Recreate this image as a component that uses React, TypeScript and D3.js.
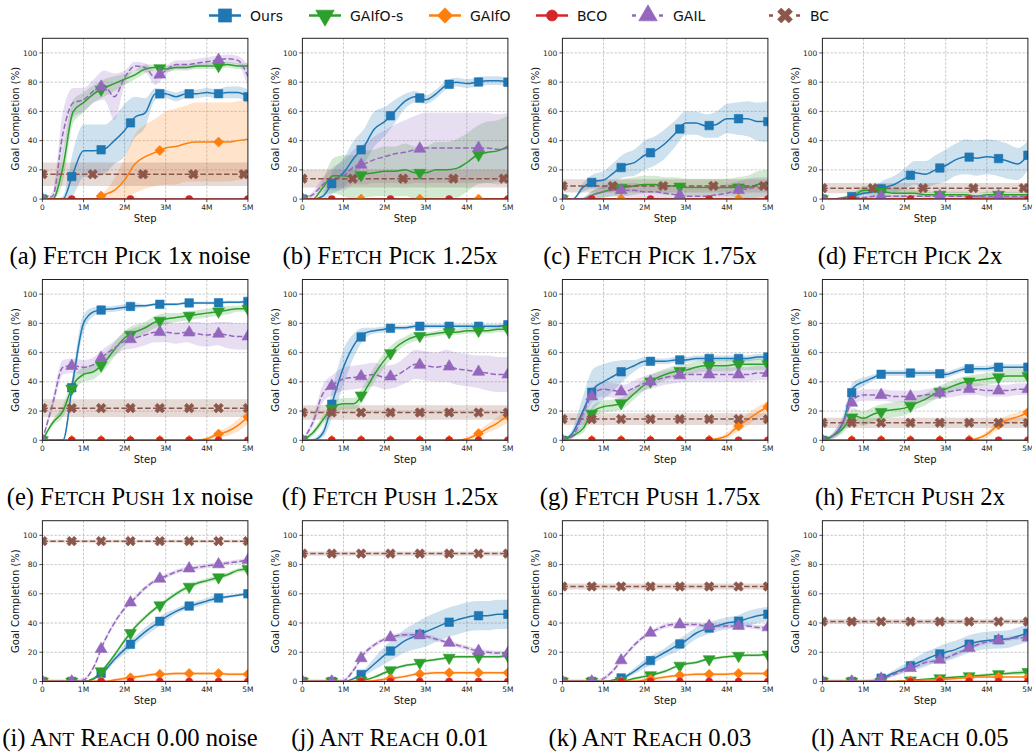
import React from 'react';
import * as d3 from 'd3';

// x grid of every curve, in millions of steps
const STEPS = [0, 0.25, 0.5, 0.75, 1, 1.25, 1.5, 1.75, 2, 2.25, 2.5, 2.75, 3, 3.25, 3.5, 3.75, 4, 4.25, 4.5, 4.75, 5];

const SERIES_NAMES = ['Ours', 'GAIfO-s', 'GAIfO', 'BCO', 'GAIL', 'BC'];
const SERIES_COLORS = ['#1f77b4', '#2ca02c', '#ff7f0e', '#d62728', '#9467bd', '#8c564b'];

const CAPTION_TAG = ['(a)', '(b)', '(c)', '(d)', '(e)', '(f)', '(g)', '(h)', '(i)', '(j)', '(k)', '(l)'];
const CAPTION_TASK = ['Fetch Pick', 'Fetch Pick', 'Fetch Pick', 'Fetch Pick', 'Fetch Push', 'Fetch Push', 'Fetch Push', 'Fetch Push', 'Ant Reach', 'Ant Reach', 'Ant Reach', 'Ant Reach'];
const CAPTION_SETTING = ['1x noise', '1.25x', '1.75x', '2x', '1x noise', '1.25x', '1.75x', '2x', '0.00 noise', '0.01', '0.03', '0.05'];

const X_TICKS = [0, 1, 2, 3, 4, 5];
const X_TICK_LABELS = ['0', '1M', '2M', '3M', '4M', '5M'];
const Y_TICKS = [0, 20, 40, 60, 80, 100];

// mean goal completion (%) per panel a..l
const OURS = [
  [0, 0, 0, 18, 33, 33, 34, 40, 47, 56, 59, 72, 72, 70, 72, 72, 73, 72, 73, 73, 70],
  [0, 0, 2, 12, 18, 28, 36, 48, 53, 60, 67, 70, 68, 72, 78, 80, 79, 80, 81, 81, 80],
  [0, 0, 8, 12, 13, 18, 23, 25, 30, 33, 38, 45, 52, 52, 50, 51, 55, 55, 55, 53, 53],
  [0, 0, 0, 2, 4, 5, 8, 10, 14, 18, 17, 20, 23, 27, 29, 28, 29, 28, 26, 24, 30],
  [0, 0, 0, 42, 80, 88, 89.5, 90, 91, 92, 92, 93, 93, 93, 94, 94, 94, 94, 94.5, 94.5, 95],
  [0, 0, 5, 28, 50, 65, 73, 75, 76, 77, 77, 78, 78, 78, 78, 78, 78, 78, 78, 78, 79],
  [0, 5, 20, 35, 40, 44, 48, 51, 54, 54, 54, 55, 55, 56, 56, 56, 56, 56, 56, 57, 57],
  [0, 3, 12, 36, 40, 43, 46, 46, 46, 46, 46, 46, 45, 47, 49, 49, 49, 50, 50, 50, 50],
  [0, 0, 0, 0, 0, 2, 7, 15, 22, 28, 34, 39, 44, 48, 51, 53, 55, 57, 58, 59, 60],
  [0, 0, 0, 0, 0, 2, 6, 12, 18, 23, 28, 31, 34, 37, 40, 42, 44, 45, 45, 46, 46],
  [0, 0, 0, 0, 0, 1, 3, 7, 12, 16, 20, 24, 28, 33, 36, 38, 40, 41, 43, 45, 46],
  [0, 0, 0, 0, 0, 0.5, 3, 6, 9, 12, 15, 18, 20, 22, 25, 27, 28, 28.5, 29, 31, 33],
];
const OURS_SD = [
  [0, 0, 2, 15, 18, 18, 17, 16, 18, 14, 10, 4, 3, 3, 3, 3, 3, 3, 4, 4, 5],
  [0, 0, 2, 8, 10, 12, 12, 12, 10, 8, 5, 4, 3, 3, 3, 3, 3, 3, 3, 3, 3],
  [0, 0, 3, 5, 6, 7, 8, 9, 10, 10, 10, 9, 8, 8, 8, 9, 10, 11, 12, 13, 14],
  [0, 0, 1, 2, 3, 4, 5, 6, 7, 8, 9, 10, 11, 11, 12, 12, 12, 12, 12, 11, 10],
  [0, 0, 1, 6, 6, 3, 2, 2, 2, 2, 1, 1, 1, 1, 1, 1, 1, 1, 1, 1, 1],
  [0, 1, 3, 10, 12, 8, 4, 2, 2, 1.5, 1.5, 1.5, 1.5, 1.5, 1.5, 1.5, 1.5, 1.5, 1.5, 1.5, 1.5],
  [0, 3, 10, 14, 12, 10, 7, 4, 3, 2, 2, 2, 2, 2, 2, 2, 2, 2, 2, 2, 2],
  [0, 2, 5, 4, 3, 2, 2, 2, 2, 2, 2, 2, 2, 2, 2, 2, 2, 2, 2, 2, 2],
  [0, 0, 0, 0, 0, 1, 2, 2, 3, 3, 3, 3, 3, 2, 2, 2, 2, 2, 1, 1, 1],
  [0, 0, 0, 0, 0, 1, 2, 4, 6, 7, 8, 9, 10, 10, 10, 10, 10, 10, 10, 10, 10],
  [0, 0, 0, 0, 0, 1, 1, 2, 3, 3, 3, 4, 4, 4, 4, 4, 4, 4, 5, 5, 5],
  [0, 0, 0, 0, 0, 1, 1, 2, 3, 4, 5, 5, 6, 6, 6, 6, 6, 6, 6, 6, 6],
];

const GAIFOS = [
  [0, 0, 22, 60, 66, 72, 76, 79, 82, 85, 89, 90, 89, 90, 90, 91, 91, 91, 92, 91, 91],
  [0, 0, 8, 16, 16, 15, 17, 18, 19, 19, 20, 18, 18, 20, 20, 21, 25, 30, 32, 33, 36],
  [0, 0, 0, 3, 5, 7, 8, 9, 10, 10, 9, 9, 8, 8, 8, 8, 8, 8, 8, 10, 11],
  [0, 0, 1, 2, 6, 6, 5, 4, 4, 4, 3, 3, 3, 3, 3, 2, 3, 3, 3, 3, 3],
  [0, 12, 20, 38, 45, 47, 53, 62, 70, 74, 77, 81, 83, 84, 85, 86, 87, 88, 89, 90, 90],
  [0, 5, 14, 23, 25, 25, 33, 45, 55, 63, 68, 71, 72, 73, 74, 74, 75, 75, 75, 76, 76],
  [0, 3, 8, 20, 23, 24, 26, 32, 38, 42, 45, 47, 48, 50, 51, 51, 51, 52, 52, 52, 52],
  [0, 3, 8, 17, 15, 18, 20, 21, 22, 25, 28, 32, 35, 38, 40, 41, 42, 43, 44, 44, 44],
  [0, 0, 0, 0, 0, 2, 9, 18, 28, 37, 44, 50, 55, 60, 64, 67, 69, 71, 73, 76, 77],
  [0, 0, 0, 0, 0, 0, 1, 3, 6, 9, 11, 12, 14, 15, 16, 17, 17, 17, 17, 17, 17.5],
  [0, 0, 0, 0, 0, 0, 0.5, 2, 3.5, 5, 7, 10, 12, 13, 15, 16, 17, 17.5, 18, 18, 18.5],
  [0, 0, 0, 0, 0, 0, 0, 0, 0.5, 1, 1.5, 2, 2.5, 3, 3.5, 4, 4.5, 5, 5.5, 6, 6.5],
];
const GAIFOS_SD: (number | number[])[] = [
  [0, 1, 10, 8, 7, 6, 6, 5, 4, 3, 3, 2, 2, 2, 2, 2, 2, 2, 2, 2, 2],
  [0, 0, 5, 12, 14, 15, 16, 16, 17, 17, 18, 18, 18, 19, 19, 20, 20, 20, 21, 21, 21],
  [0, 0, 1, 3, 4, 5, 6, 6, 6, 6, 6, 6, 6, 6, 6, 6, 6, 7, 8, 9, 9],
  [0, 0, 1, 2, 3, 3, 3, 3, 3, 2, 2, 2, 2, 2, 2, 2, 2, 2, 2, 2, 2],
  [0, 2, 4, 5, 5, 5, 5, 5, 5, 5, 4, 4, 4, 3, 3, 3, 3, 3, 3, 2, 2],
  [0, 2, 3, 4, 4, 4, 5, 5, 5, 4, 3, 3, 2, 2, 2, 2, 2, 2, 2, 2, 2],
  [0, 1, 3, 4, 4, 4, 4, 4, 4, 4, 4, 4, 4, 4, 4, 4, 4, 4, 4, 4, 4],
  [0, 1, 3, 5, 5, 5, 5, 5, 5, 4, 4, 4, 4, 4, 4, 4, 4, 4, 4, 4, 4],
  [0, 0, 0, 0, 0, 1, 1, 1.5, 1.5, 1.5, 1.5, 1.5, 1.5, 1.5, 1.5, 1.5, 1.5, 1.5, 1.5, 1.5, 1.5],
  [0, 0, 0, 0, 0, 0, 0.5, 1, 1, 1, 1, 1, 1, 1, 1, 1, 1, 1, 1, 1, 1],
  [0, 0, 0, 0, 0, 0, 0.5, 1, 1, 1, 1, 1, 1, 1, 1, 1, 1, 1, 1, 1, 1],
  [0, 0, 0, 0, 0, 0, 0, 0, 0.5, 0.5, 0.5, 1, 1, 1, 1, 1, 1, 1, 1, 1.5, 1.5],
];

const GAIFO = [
  [0, 0, 0, 0, 0, 0, 3, 6, 13, 24, 29, 32, 35, 36, 38, 39, 39, 39, 39, 40, 41],
  [0, 0, 0, 0, 0, 0, 0, 0, 0, 0, 0, 0, 0, 0, 0, 0, 0, 0, 0, 0, 0.5],
  [0, 0, 0, 0, 0, 0, 0, 0, 0, 0, 0, 0, 0, 0, 0, 0, 0, 0, 0, 0, 0],
  [0, 0, 0, 0, 0, 0, 0, 0, 0, 0, 0, 0, 0, 0, 0.5, 1, 1, 1, 1, 1, 1],
  [0, 0, 0, 0, 0, 0, 0, 0, 0, 0, 0, 0, 0, 0, 0, 0, 1, 4, 6, 10, 16],
  [0, 0, 0, 0, 0, 0, 0, 0, 0, 0, 0, 0, 0, 0, 0, 0, 1, 4, 8, 12, 17],
  [0, 0, 0, 0, 0, 0, 0, 0, 0, 0, 0, 0, 0, 0, 0, 1, 3, 9, 14, 19, 23],
  [0, 0, 0, 0, 0, 0, 0, 0, 0, 0, 0, 0, 0, 0, 0, 1, 4, 10, 14, 16, 19],
  [0, 0, 0, 0, 0, 0, 0, 1, 2, 3, 4, 5, 5, 5.5, 5.5, 5.5, 5.5, 5.5, 5, 5, 5],
  [0, 0, 0, 0, 0, 0, 0, 0.5, 1.5, 2.5, 3.5, 5, 5.5, 6, 6, 6, 6, 6, 6, 6, 6],
  [0, 0, 0, 0, 0, 0, 0, 0, 1, 2, 3, 4, 4.5, 5, 5, 5, 5, 5.5, 5.5, 5.5, 5.5],
  [0, 0, 0, 0, 0, 0, 0, 0, 0.5, 0.5, 1, 1, 1.5, 2, 2.5, 3, 3, 3, 3, 3, 3],
];
const GAIFO_SD: (number | number[])[] = [
  [0, 0, 0, 0, 0, 0, 2, 8, 15, 20, 22, 23, 25, 26, 26, 27, 27, 27, 27, 27, 27],
  0.5,
  0.5,
  0.5,
  [0, 0, 0, 0, 0, 0, 0, 0, 0, 0, 0, 0, 0, 0, 0, 0, 1, 2, 3, 4, 5],
  [0, 0, 0, 0, 0, 0, 0, 0, 0, 0, 0, 0, 0, 0, 0, 0, 1, 2, 3, 4, 5],
  [0, 0, 0, 0, 0, 0, 0, 0, 0, 0, 0, 0, 0, 0, 0, 1, 2, 3, 4, 4, 4],
  [0, 0, 0, 0, 0, 0, 0, 0, 0, 0, 0, 0, 0, 0, 0, 1, 2, 3, 3, 3, 3],
  1,
  1,
  1,
  0.5,
];

const GAIL = [
  [0, 2, 45, 66, 68, 74, 78, 70, 83, 91, 90, 83, 88, 92, 92, 93, 94, 95, 96, 95, 84],
  [0, 3, 10, 14, 16, 22, 24, 27, 29, 31, 32, 34, 35, 35, 35, 35, 35, 35, 35, 34, 35],
  [0, 0, 0, 3, 5, 6, 6, 6, 5, 5, 4, 3, 2, 2, 2, 3, 4, 6, 7, 8, 8],
  [0, 0, 0, 1, 1, 2, 2, 2, 2, 2, 2, 2, 2, 2, 2, 2, 2, 2, 2, 2, 2],
  [0, 25, 50, 51, 50, 52, 58, 63, 68, 70, 72, 74, 74, 73, 74, 73, 72, 73, 72, 71, 71],
  [0, 12, 32, 38, 42, 43, 44, 45, 43, 44, 48, 52, 51, 50, 51, 49, 48, 47, 46, 45, 45],
  [0, 3, 18, 32, 35, 34, 33, 36, 39, 41, 43, 44, 45, 45, 45, 45, 45, 45, 45, 46, 46],
  [0, 3, 12, 28, 31, 31, 31, 30, 30, 30, 31, 32, 33, 34, 35, 35, 34, 34, 34, 35, 35],
  [0, 0, 0, 0, 1, 10, 27, 40, 50, 57, 64, 69, 72, 75, 77, 78, 79, 80, 81, 82, 83],
  [0, 0, 0, 0, 0.5, 8, 19, 25, 29, 31, 32, 32, 31, 29, 27, 25, 23, 21, 20, 19.5, 19.5],
  [0, 0, 0, 0, 2, 8, 17, 25, 31, 35, 38, 39, 39, 39, 38, 38, 38, 38, 38, 37, 37],
  [0, 0, 0, 0, 0, 0.5, 2.5, 5, 8, 10, 13, 14, 16, 19, 22, 25, 27, 28, 29, 30, 30],
];
const GAIL_SD: (number | number[])[] = [
  [0, 3, 15, 10, 8, 8, 10, 16, 5, 3, 3, 5, 3, 3, 3, 3, 3, 3, 3, 3, 8],
  [0, 2, 5, 8, 10, 12, 14, 16, 18, 20, 22, 23, 24, 24, 24, 24, 24, 24, 24, 24, 24],
  [0, 0, 1, 3, 4, 4, 5, 5, 5, 5, 5, 5, 5, 5, 5, 5, 6, 6, 7, 7, 7],
  1,
  [0, 4, 5, 5, 5, 5, 5, 5, 6, 7, 7, 7, 7, 7, 7, 8, 8, 8, 9, 9, 9],
  [0, 3, 6, 7, 8, 8, 8, 8, 8, 8, 9, 10, 10, 10, 11, 11, 11, 11, 12, 12, 12],
  [0, 2, 4, 5, 5, 5, 5, 5, 5, 5, 5, 5, 5, 5, 5, 5, 5, 5, 5, 5, 5],
  [0, 2, 3, 4, 4, 4, 4, 4, 4, 4, 4, 4, 4, 4, 4, 4, 4, 4, 4, 4, 4],
  1.5,
  1.5,
  1.5,
  1.5,
];

// flat baselines
const BCO_LEVEL = [0, 0, 0, 0, 0, 0, 0, 0, 0, 0, 0, 0];
const BC_LEVEL = [17, 14, 9, 7.5, 22, 19, 14.5, 12, 96, 87.5, 65, 41];
const BC_SD = [8, 6, 4.5, 3.5, 6, 5, 4, 3.5, 1, 1.5, 2, 1.5];

// where the markers sit (markevery)
const MARKS_FULL = [0, 0.714, 1.429, 2.143, 2.857, 3.571, 4.286, 5];
const MARKS_HALF = [0, 1.429, 2.857, 4.286];
const MARKS_ODD = [0.714, 2.143, 3.571, 5];
const MARKS_BC_PICK = [0, 1.224, 2.449, 3.673, 4.898];

const AX_W = 205.5;
const AX_H = 160.8;
const COL_X = 42.4;
const COL_DX = 260;
const ROW_Y = 38.3;
const ROW_DY = 241.2;

const SANS = 'DejaVu Sans';
const SERIF = 'Liberation Serif';
const CAPTION_SIZE = 24.6;
const SMALL_CAPS = 0.8;

function sdAt(sd: number | number[], i: number) {
  return typeof sd === 'number' ? sd : sd[i];
}

function valueAt(ys: number[], x: number) {
  const i = Math.min(STEPS.length - 2, Math.max(0, d3.bisectRight(STEPS, x) - 1));
  const t = (x - STEPS[i]) / (STEPS[i + 1] - STEPS[i]);
  return ys[i] + (ys[i + 1] - ys[i]) * t;
}

function markerPath(k: number, scale: number) {
  const s = scale;
  switch (k) {
    case 0: return { d: d3.symbol(d3.symbolSquare, 72 * s * s)(), rot: 0 };
    case 1: return { d: d3.symbol(d3.symbolTriangle, 62 * s * s)(), rot: 180 };
    case 2: return { d: d3.symbol(d3.symbolSquare, 50 * s * s)(), rot: 45 };
    case 3: return { d: d3.symbol(d3.symbolCircle, 40 * s * s)(), rot: 0 };
    case 4: return { d: d3.symbol(d3.symbolTriangle, 62 * s * s)(), rot: 0 };
    default: return { d: d3.symbol(d3.symbolCross, 58 * s * s)(), rot: 45 };
  }
}

function Marker({ k, x, y, scale = 1 }: { k: number; x: number; y: number; scale?: number }) {
  const m = markerPath(k, scale);
  return (
    <path
      d={m.d as string}
      transform={`translate(${x},${y}) rotate(${m.rot})`}
      fill={SERIES_COLORS[k]}
      stroke={SERIES_COLORS[k]}
      strokeWidth={0.6}
    />
  );
}

function Panel({ idx }: { idx: number }) {
  const row = Math.floor(idx / 4);
  const col = idx % 4;
  const left = COL_X + col * COL_DX;
  const top = ROW_Y + row * ROW_DY;
  const x = d3.scaleLinear().domain([0, 5]).range([0, AX_W]);
  const y = d3.scaleLinear().domain([0, 110]).range([AX_H, 0]);

  const means = [
    OURS[idx],
    GAIFOS[idx],
    GAIFO[idx],
    STEPS.map(() => BCO_LEVEL[idx]),
    GAIL[idx],
    STEPS.map(() => BC_LEVEL[idx]),
  ];
  const sds: (number | number[])[] = [OURS_SD[idx], GAIFOS_SD[idx], GAIFO_SD[idx], 0, GAIL_SD[idx], BC_SD[idx]];
  const marks = row === 0
    ? [MARKS_FULL, MARKS_HALF, MARKS_HALF, MARKS_ODD, MARKS_HALF, MARKS_BC_PICK]
    : [MARKS_FULL, MARKS_FULL, MARKS_FULL, MARKS_FULL, MARKS_FULL, MARKS_FULL];

  const line = d3.line<number>()
    .x((_, i) => x(STEPS[i]))
    .y(v => y(v))
    .curve(d3.curveMonotoneX);

  const clipId = `clip-${idx}`;
  const drawOrder = [0, 1, 2, 3, 4, 5];

  return (
    <g transform={`translate(${left},${top})`}>
      <defs>
        <clipPath id={clipId}>
          <rect x={0} y={0} width={AX_W} height={AX_H} />
        </clipPath>
      </defs>
      {/* grid */}
      {X_TICKS.slice(1, -1).map(t => (
        <line key={`gx${t}`} x1={x(t)} x2={x(t)} y1={0} y2={AX_H}
          stroke="#b0b0b0" strokeWidth={0.7} strokeDasharray="2.5,1.5" />
      ))}
      {Y_TICKS.slice(1).map(t => (
        <line key={`gy${t}`} x1={0} x2={AX_W} y1={y(t)} y2={y(t)}
          stroke="#b0b0b0" strokeWidth={0.7} strokeDasharray="2.5,1.5" />
      ))}
      <g clipPath={`url(#${clipId})`}>
        {drawOrder.map(k => {
          const mean = means[k];
          const sd = sds[k];
          const area = d3.area<number>()
            .x((_, i) => x(STEPS[i]))
            .y0((v, i) => y(Math.max(0, v - sdAt(sd, i))))
            .y1((v, i) => y(v + sdAt(sd, i)))
            .curve(d3.curveMonotoneX);
          return (
            <path key={`band${k}`} d={area(mean) as string} fill={SERIES_COLORS[k]} fillOpacity={0.22} stroke="none" />
          );
        })}
        {drawOrder.map(k => (
          <path key={`line${k}`} d={line(means[k]) as string} fill="none"
            stroke={SERIES_COLORS[k]} strokeWidth={1.5}
            strokeDasharray={k === 4 || k === 5 ? '5.5,2.4' : undefined} />
        ))}
        {drawOrder.map(k => marks[k].map((mx, j) => (
          <Marker key={`m${k}-${j}`} k={k} x={x(mx)} y={y(valueAt(means[k], mx))} />
        )))}
      </g>
      {/* spines */}
      <rect x={0} y={0} width={AX_W} height={AX_H} fill="none" stroke="#222" strokeWidth={1} />
      {/* y axis */}
      {Y_TICKS.map(t => (
        <g key={`yt${t}`}>
          <line x1={-3} x2={0} y1={y(t)} y2={y(t)} stroke="#222" strokeWidth={0.8} />
          <text x={-5} y={y(t)} dy="0.35em" textAnchor="end" fontFamily={SANS} fontSize={7.5} fill="#262626">{t}</text>
        </g>
      ))}
      {X_TICKS.map((t, i) => (
        <g key={`xt${t}`}>
          <line x1={x(t)} x2={x(t)} y1={AX_H} y2={AX_H + 3} stroke="#222" strokeWidth={0.8} />
          <text x={x(t)} y={AX_H + 11} textAnchor="middle" fontFamily={SANS} fontSize={7.5} fill="#262626">{X_TICK_LABELS[i]}</text>
        </g>
      ))}
      <text x={AX_W / 2} y={AX_H + 22.5} textAnchor="middle" fontFamily={SANS} fontSize={10} fill="#111">Step</text>
      <text transform={`translate(${-27},${AX_H / 2}) rotate(-90)`} textAnchor="middle" dy="0.35em"
        fontFamily={SANS} fontSize={10} fill="#111">Goal Completion (%)</text>
    </g>
  );
}

function Caption({ idx }: { idx: number }) {
  const row = Math.floor(idx / 4);
  const col = idx % 4;
  const words = CAPTION_TASK[idx].split(' ');
  return (
    <text x={130 + col * 260} y={264.3 + row * 241} textAnchor="middle"
      fontFamily={SERIF} fontSize={CAPTION_SIZE} fill="#000">
      {CAPTION_TAG[idx] + ' '}
      {words.map((w, i) => (
        <React.Fragment key={i}>
          <tspan>{w[0]}</tspan>
          <tspan fontSize={CAPTION_SIZE * SMALL_CAPS}>{w.slice(1).toUpperCase()}</tspan>
          <tspan>{' '}</tspan>
        </React.Fragment>
      ))}
      {CAPTION_SETTING[idx]}
    </text>
  );
}

const LEGEND_X = [225, 325, 445, 552, 648, 785];

function Legend() {
  return (
    <g>
      {SERIES_NAMES.map((name, k) => {
        const cx = LEGEND_X[k];
        const dashed = k === 4 || k === 5;
        return (
          <g key={name}>
            <line x1={cx - 16} x2={cx + 16} y1={15.5} y2={15.5} stroke={SERIES_COLORS[k]}
              strokeWidth={2.5} strokeDasharray={dashed ? '4,9.5' : undefined} />
            <Marker k={k} x={cx} y={15.5} scale={1.55} />
            <text x={cx + 25} y={21} fontFamily={SANS} fontSize={14} fill="#111">{name}</text>
          </g>
        );
      })}
    </g>
  );
}

export default function App() {
  const panels = d3.range(12);
  return (
    <svg width={1032} height={752} style={{ position: 'absolute', left: 0, top: 0, background: '#fff' }}>
      <rect width={1032} height={752} fill="#fff" />
      <Legend />
      {panels.map(i => <Panel key={i} idx={i} />)}
      {panels.map(i => <Caption key={`c${i}`} idx={i} />)}
    </svg>
  );
}
